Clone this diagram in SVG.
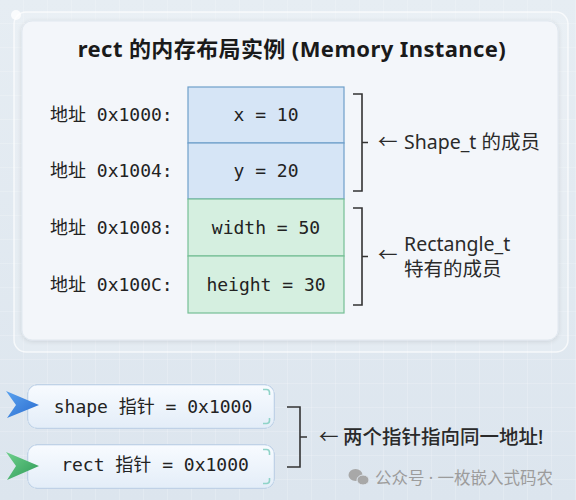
<svg xmlns="http://www.w3.org/2000/svg" width="576" height="500" viewBox="0 0 576 500">
<defs>
<linearGradient id="bg" x1="0" y1="0" x2="0" y2="1">
<stop offset="0" stop-color="#e6edf3"/>
<stop offset="1" stop-color="#dce5ee"/>
</linearGradient>
<pattern id="grid" width="24" height="24" patternUnits="userSpaceOnUse">
<path d="M24 0V24M0 24H24" fill="none" stroke="#ffffff" stroke-opacity="0.35" stroke-width="1"/>
</pattern>
<linearGradient id="ptr" x1="0" y1="0" x2="0" y2="1">
<stop offset="0" stop-color="#f8fbff"/>
<stop offset="1" stop-color="#e3edf8"/>
</linearGradient>
<linearGradient id="blueArr" x1="0" y1="0" x2="1" y2="1">
<stop offset="0" stop-color="#5aa2ef"/>
<stop offset="1" stop-color="#2a6ccf"/>
</linearGradient>
<linearGradient id="greenArr" x1="0" y1="0" x2="1" y2="1">
<stop offset="0" stop-color="#6fd08c"/>
<stop offset="1" stop-color="#2e9a57"/>
</linearGradient>
<filter id="glow" x="-20%" y="-40%" width="140%" height="180%">
<feGaussianBlur in="SourceAlpha" stdDeviation="3"/>
<feOffset dy="2"/>
<feComponentTransfer><feFuncA type="linear" slope="0.2"/></feComponentTransfer>
<feFlood flood-color="#5b8fc8"/>
<feComposite operator="in" in2="SourceAlpha"/>
<feMerge><feMergeNode/><feMergeNode in="SourceGraphic"/></feMerge>
</filter>
<filter id="soft" x="-10%" y="-10%" width="120%" height="120%">
<feGaussianBlur in="SourceAlpha" stdDeviation="2.5"/>
<feOffset dy="1"/>
<feComponentTransfer><feFuncA type="linear" slope="0.12"/></feComponentTransfer>
<feMerge><feMergeNode/><feMergeNode in="SourceGraphic"/></feMerge>
</filter>
</defs>
<style>
.mono{font-family:"DejaVu Sans Mono","Noto Sans CJK SC",monospace;font-size:18px;fill:#222}
.sans{font-family:"Noto Sans","Noto Sans CJK SC",sans-serif;fill:#2a2a2a}
.title{font-family:"Noto Sans","Noto Sans CJK SC",sans-serif;font-size:22px;font-weight:bold;letter-spacing:0.4px;fill:#1a1a1a}
.blue{fill:#d6e5f6;stroke:#6e9fca;stroke-width:1.2}
.green{fill:#d5efe0;stroke:#76bf95;stroke-width:1.2}
.br{fill:none;stroke:#333;stroke-width:1.6}
.corner{fill:none;stroke:#8fd3c8;stroke-width:1.6}
.pbox{fill:url(#ptr);stroke:#d3e2f1;stroke-width:1}
.wm{font-family:"Noto Sans","Noto Sans CJK SC",sans-serif;font-size:16.5px;fill:#9c9c9c}
</style>
<rect width="576" height="500" fill="url(#bg)"/>
<rect width="576" height="500" fill="url(#grid)"/>
<rect x="14" y="12" width="554" height="340" rx="12" fill="#ffffff" fill-opacity="0.18" stroke="#ffffff" stroke-opacity="0.7" stroke-width="1.5"/>
<circle cx="16" cy="15" r="5" fill="#ffffff" fill-opacity="0.8"/>

<g id="card">
<rect x="22" y="21" width="536" height="319" rx="10" fill="#f3f6fa" stroke="#e1e8ef" stroke-width="1" filter="url(#soft)"/>
<text class="title" x="292" y="57" text-anchor="middle">rect 的内存布局实例 (Memory Instance)</text>
</g>

<g id="row-x">
<rect class="blue" x="188" y="87" width="156" height="56"/>
<text class="mono" x="266" y="121" text-anchor="middle">x = 10</text>
<text class="mono" x="50" y="121">地址 0x1000:</text>
</g>
<g id="row-y">
<rect class="blue" x="188" y="143" width="156" height="56"/>
<text class="mono" x="266" y="177" text-anchor="middle">y = 20</text>
<text class="mono" x="50" y="177">地址 0x1004:</text>
</g>
<g id="row-width">
<rect class="green" x="188" y="199" width="156" height="57"/>
<text class="mono" x="266" y="234" text-anchor="middle">width = 50</text>
<text class="mono" x="50" y="234">地址 0x1008:</text>
</g>
<g id="row-height">
<rect class="green" x="188" y="256" width="156" height="57"/>
<text class="mono" x="266" y="291" text-anchor="middle">height = 30</text>
<text class="mono" x="50" y="291">地址 0x100C:</text>
</g>

<g id="label-shape">
<text class="sans" font-size="19.5"><tspan x="378" y="149">←</tspan><tspan x="404" y="149">Shape_t 的成员</tspan></text>
</g>
<g id="label-rect">
<text class="sans" font-size="19.5"><tspan x="378" y="262">←</tspan><tspan x="404" y="251">Rectangle_t</tspan><tspan x="404" y="276">特有的成员</tspan></text>
</g>

<g id="ptr-shape">
<rect class="pbox" x="28" y="385" width="246" height="43" rx="9" filter="url(#glow)"/>
<path class="corner" d="M263 389.5H266.5Q269.5 389.5 269.5 392.5V395"/>
<path class="corner" d="M263 423.5H266.5Q269.5 423.5 269.5 420.5V418"/>
<path d="M6 391L39 405L7 418L16 405Z" fill="url(#blueArr)"/>
<text class="mono" x="153" y="413" text-anchor="middle">shape 指针 = 0x1000</text>
</g>
<g id="ptr-rect">
<rect class="pbox" x="28" y="445" width="246" height="43" rx="9" filter="url(#glow)"/>
<path class="corner" d="M263 449.5H266.5Q269.5 449.5 269.5 452.5V455"/>
<path class="corner" d="M263 483.5H266.5Q269.5 483.5 269.5 480.5V478"/>
<path d="M6 452L39 466L7 480L16 466Z" fill="url(#greenArr)"/>
<text class="mono" x="155" y="471" text-anchor="middle">rect 指针 = 0x1000</text>
</g>

<g id="connectors">
<path class="br" d="M353 94H362V191H353M362 142.5H368"/>
<path class="br" d="M353 208H362V305H353M362 256.5H368"/>
<path class="br" d="M287 407H300V467H287M300 437H307"/>
</g>

<g id="label-same">
<text class="sans" font-size="19.5" fill="#1e1e1e"><tspan x="319" y="444">←</tspan><tspan x="343" y="444" font-weight="500">两个指针指向同一地址!</tspan></text>
</g>

<g id="watermark">
<ellipse cx="355.5" cy="475" rx="7" ry="6" fill="#a8a8a8"/>
<ellipse cx="363" cy="480" rx="6" ry="5" fill="#a8a8a8" stroke="#e0e7ef" stroke-width="1"/>
<text class="wm" x="375" y="484">公众号 · 一枚嵌入式码农</text>
</g>
</svg>
